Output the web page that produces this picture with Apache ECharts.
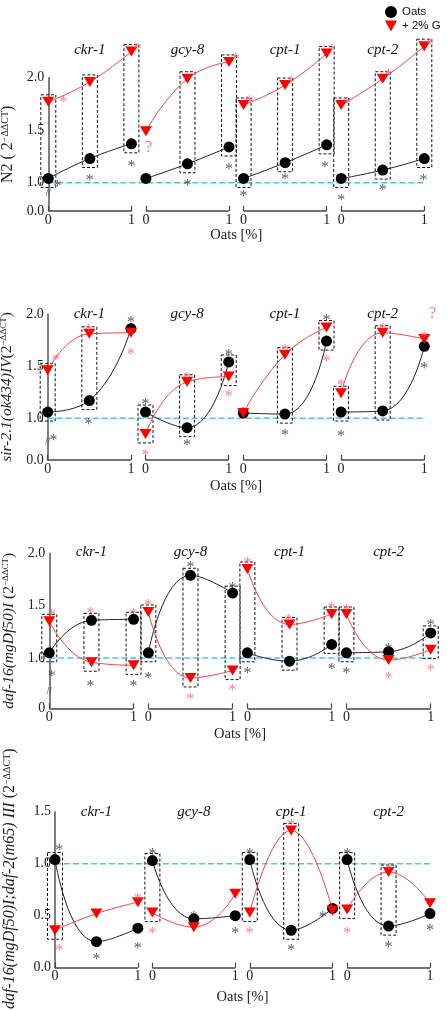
<!DOCTYPE html>
<html><head><meta charset="utf-8">
<script src="https://cdn.jsdelivr.net/npm/echarts@6/dist/echarts.min.js"></script>
<style>html,body{margin:0;padding:0;background:#fff}#c{width:447px;height:1010px}</style>
</head><body><div id="c"></div>
<script>
// ---------------- data ----------------
const GROUPS = ['ckr-1', 'gcy-8', 'cpt-1', 'cpt-2'];
const DOSES = [0, 0.5, 1];
const X_TICK_LABELS = ['0', '1'];
const REF_LEVEL = 1;

// Panel 1: N2
const OATS_N2 = [[1.04, 1.23, 1.37], [1.04, 1.18, 1.34], [1.04, 1.19, 1.36], [1.04, 1.12, 1.23]];
const G_N2    = [[1.77, 1.96, 2.25], [1.49, 1.99, 2.15], [1.74, 1.93, 2.23], [1.74, 1.99, 2.30]];
const BOX_N2  = [[0,0],[0,1],[0,2],[1,1],[1,2],[2,0],[2,1],[2,2],[3,0],[3,1],[3,2]];
const STARS_N2 = [[0,0.11,1.00,'b'],[0,0.18,1.80,'r'],[0,0.5,1.06,'b'],[0,1.0,1.19,'b'],[0,1.08,2.30,'r'],
  [1,0.5,1.01,'b'],[1,1.0,1.16,'b'],[1,1.08,2.21,'r'],
  [2,0,0.90,'b'],[2,0.07,1.81,'r'],[2,0.5,1.07,'b'],[2,0.57,1.99,'r'],[2,0.98,1.18,'b'],[2,1.06,2.29,'r'],
  [3,0,0.87,'b'],[3,0.07,1.79,'r'],[3,0.5,0.96,'b'],[3,0.57,2.06,'r'],[3,0.99,1.06,'b'],[3,1.07,2.35,'r']];
const Q_N2 = [[1, 0.03, 1.33]];

// Panel 2: sir-2.1(ok434)IV
const OATS_SIR = [[1.06, 1.17, 1.86], [1.06, 0.91, 1.54], [1.05, 1.04, 1.74], [1.06, 1.07, 1.69]];
const G_SIR    = [[1.46, 1.81, 1.82], [0.85, 1.35, 1.40], [1.05, 1.61, 1.87], [1.24, 1.82, 1.76]];
const BOX_SIR  = [[0,0],[0,1],[1,0],[1,1],[1,2],[2,1],[2,2],[3,0],[3,1]];
const STARS_SIR = [[0,0.1,1.59,'r'],[0,0.07,0.82,'b'],[0,0.49,1.88,'r'],[0,0.49,0.98,'b'],[0,1,1.95,'b'],[0,1,1.65,'r'],
  [1,0,1.17,'b'],[1,0,0.68,'r'],[1,0.5,1.42,'r'],[1,0.5,0.77,'b'],[1,1,1.64,'b'],[1,1,1.24,'r'],
  [2,0.5,1.69,'r'],[2,0.5,0.87,'b'],[2,1,1.97,'b'],[2,1,1.58,'r'],
  [3,0,1.35,'r'],[3,0,0.86,'b'],[3,0.5,1.89,'r'],[3,1,1.81,'r'],[3,1,1.51,'b']];
const Q_SIR = [[3, 1.1, 2.0]];

// Panel 3: daf-16(mgDf50)I
const OATS_DAF16 = [[1.05, 1.36, 1.37], [1.05, 1.79, 1.62], [1.05, 0.97, 1.13], [1.05, 1.06, 1.24]];
const G_DAF16    = [[1.35, 0.96, 0.93], [1.44, 0.81, 0.88], [1.85, 1.32, 1.42], [1.42, 0.98, 1.08]];
const BOX_DAF16  = [[0,0],[0,1],[0,2],[1,0],[1,1],[1,2],[2,0],[2,1],[2,2],[3,0],[3,2]];
const STARS_DAF16 = [[0,0.03,1.44,'r'],[0,0.03,0.86,'b'],[0,0.49,1.46,'r'],[0,0.49,0.76,'b'],[0,1,1.45,'r'],[0,1,0.76,'b'],
  [1,0,1.54,'r'],[1,0,0.84,'b'],[1,0.5,1.90,'b'],[1,0.5,0.64,'r'],[1,1,1.70,'b'],[1,1,0.73,'r'],
  [2,0,1.94,'r'],[2,0,0.89,'b'],[2,0.49,1.39,'r'],[2,1,1.51,'r'],[2,1,0.93,'b'],
  [3,0,1.49,'r'],[3,0,0.89,'b'],[3,0.5,1.12,'b'],[3,0.5,0.84,'r'],[3,1,1.35,'b'],[3,1,0.92,'r']];

// Panel 4: daf-16(mgDf50)I;daf-2(m65) III
const OATS_DAF2 = [[1.04, 0.25, 0.38], [1.03, 0.47, 0.50], [1.04, 0.36, 0.57], [1.04, 0.40, 0.52]];
const G_DAF2    = [[0.36, 0.52, 0.63], [0.53, 0.39, 0.71], [0.53, 1.32, 0.55], [0.56, 0.92, 0.62]];
const BOX_DAF2  = [[0,0],[1,0],[2,0],[2,1],[3,0],[3,1]];
const STARS_DAF2 = [[0,0.05,1.16,'b'],[0,0.05,0.20,'r'],[0,0.5,0.11,'b'],[0,1,0.69,'r'],[0,1,0.22,'b'],
  [1,0,1.12,'b'],[1,0,0.36,'r'],[1,0.5,0.52,'b'],[1,1,0.36,'b'],
  [2,0,1.12,'b'],[2,0,0.36,'r'],[2,0.5,1.40,'r'],[2,0.5,0.20,'b'],[2,0.88,0.52,'b'],
  [3,0,1.12,'b'],[3,0,0.36,'r'],[3,0.5,0.98,'r'],[3,0.5,0.23,'b'],[3,1,0.39,'b']];

// ---------------- layout / style ----------------
const SERIF = '"Liberation Serif", "Times New Roman", serif';
const S = 1.175;             // group spacing in x units
const XMAX = 3 * S + 1;
const TRI = 'path://M0,0L10,0L5,9Z';
const RED = '#ff0000', RED_LINE = '#ee4646', RED_STAR = '#f0607a', BLACK_STAR = '#333', CYAN = '#4cc4e4';
const CLEAR = 'rgba(0,0,0,0)';

const PANELS = [
  {oats: OATS_N2, g: G_N2, boxes: BOX_N2, stars: STARS_N2, q: Q_N2,
   name: '{n|N2 ( 2}{s|−ΔΔCT}{n|)}', nameSize: 16, namePad: 0,
   left: 48.3, top: 77.7, width: 376, height: 133.3, yMin: 0.73, yMax: 2.0, yTicks: [1, 1.5, 2], bottom: '0.0',
   brk: 0.90, titleY: 50, xNameGap: 15, yNameGap: 29, cyanEnd: 4.6},
  {oats: OATS_SIR, g: G_SIR, boxes: BOX_SIR, stars: STARS_SIR, q: Q_SIR,
   name: '{i|sir-2.1(ok434)IV}{n|(2}{s|−ΔΔCT}{n|)}', nameSize: 15.5, namePad: 0,
   left: 47.7, top: 314, width: 376.6, height: 146, yMin: 0.6, yMax: 2.0, yTicks: [1, 1.5, 2], bottom: '0.0',
   brk: 0.78, titleY: 314, xNameGap: 19, yNameGap: 30, cyanEnd: 4.65},
  {oats: OATS_DAF16, g: G_DAF16, boxes: BOX_DAF16, stars: STARS_DAF16, q: [],
   name: '{i|daf-16(mgDf50)I}{n| (2}{s|−ΔΔCT}{n|)}', nameSize: 15.5, namePad: 0,
   left: 49.3, top: 553.3, width: 381.4, height: 155, yMin: 0.52, yMax: 2.0, yTicks: [1, 1.5, 2], bottom: '0',
   brk: 0.68, titleY: 551.7, xNameGap: 18, yNameGap: 31.5, cyanEnd: 4.71},
  {oats: OATS_DAF2, g: G_DAF2, boxes: BOX_DAF2, stars: STARS_DAF2, q: [],
   name: '{i|daf-16(mgDf50)I;daf-2(m65) III}{n| (2}{s|−ΔΔCT}{n|)}', nameSize: 16, namePad: 22,
   left: 55, top: 811.7, width: 375, height: 156, yMin: 0, yMax: 1.5, yTicks: [0.5, 1, 1.5], bottom: '0.0',
   brk: null, titleY: 811.7, xNameGap: 22, yNameGap: 37, cyanEnd: 4.72}
];

function richFor(size) {
  return {
    n: {fontFamily: SERIF, fontSize: size, color: '#222'},
    i: {fontFamily: SERIF, fontSize: size, fontStyle: 'italic', color: '#222'},
    s: {fontFamily: SERIF, fontSize: Math.round(size * 0.6), color: '#222', verticalAlign: 'top'}
  };
}

const grid = [], xAxis = [], yAxis = [], series = [], graphic = [];
const xTicks = [];
GROUPS.forEach((_, g) => { xTicks.push(g * S, g * S + 1); });

PANELS.forEach((p, pi) => {
  grid.push({left: p.left, top: p.top, width: p.width, height: p.height, containLabel: false, outerBoundsMode: 'none'});
  xAxis.push({
    type: 'value', gridIndex: pi, min: 0, max: XMAX,
    axisLine: {show: false}, splitLine: {show: false},
    axisTick: {show: true, inside: true, length: 5, customValues: xTicks, lineStyle: {color: '#444', width: 1.2}},
    axisLabel: {customValues: xTicks, margin: 2, fontFamily: SERIF, fontSize: 14, color: '#222',
      formatter: v => { const j = xTicks.findIndex(t => Math.abs(t - v) < 1e-6); return j < 0 ? '' : X_TICK_LABELS[j % 2]; }},
    name: 'Oats [%]', nameLocation: 'middle', nameGap: p.xNameGap,
    nameTextStyle: {fontFamily: SERIF, fontSize: 14.5, color: '#222'}
  });
  yAxis.push({
    type: 'value', gridIndex: pi, min: p.yMin, max: p.yMax,
    axisLine: {show: true, onZero: false, lineStyle: {color: '#555', width: 1.5}},
    axisTick: {show: false}, splitLine: {show: false},
    axisLabel: {customValues: [p.yMin].concat(p.yTicks), margin: 4, fontFamily: SERIF, fontSize: 14, color: '#222',
      formatter: v => Math.abs(v - p.yMin) < 1e-6 ? p.bottom : v.toFixed(1)},
    name: p.name, nameLocation: 'middle', nameRotate: 90, nameGap: p.yNameGap,
    nameTextStyle: {rich: richFor(p.nameSize), padding: [0, 0, 0, p.namePad]}
  });

  // reference line
  series.push({type: 'line', xAxisIndex: pi, yAxisIndex: pi, data: [[0, REF_LEVEL], [p.cyanEnd, REF_LEVEL]],
    symbol: 'none', clip: false, silent: true, z: 1,
    lineStyle: {color: CYAN, width: 1.5, type: [6, 3]}});

  // dashed boxes around paired points
  const boxData = p.boxes.map(([g, i]) => {
    const a = p.oats[g][i], b = p.g[g][i];
    return [g * S + DOSES[i], Math.min(a, b), Math.max(a, b)];
  });
  series.push({type: 'custom', xAxisIndex: pi, yAxisIndex: pi, data: boxData, clip: false, silent: true, z: 2,
    encode: {x: 0, y: [1, 2]},
    renderItem: (params, api) => {
      const x = api.value(0);
      const lo = api.coord([x, api.value(1)]);
      const hi = api.coord([x, api.value(2)]);
      return {type: 'rect', shape: {x: lo[0] - 7.5, y: hi[1] - 7, width: 15, height: lo[1] - hi[1] + 16},
        style: {fill: 'none', stroke: '#111', lineWidth: 1, lineDash: [3, 2]}};
    }});

  // lines + markers
  GROUPS.forEach((_, g) => {
    series.push({type: 'line', name: 'Oats', xAxisIndex: pi, yAxisIndex: pi, clip: false, z: 3,
      data: DOSES.map((d, i) => [g * S + d, p.oats[g][i]]),
      smooth: 0.5, symbol: 'circle', symbolSize: 11,
      itemStyle: {color: '#000'}, lineStyle: {color: '#222', width: 1}});
    series.push({type: 'line', name: '+ 2% G', xAxisIndex: pi, yAxisIndex: pi, clip: false, z: 4,
      data: DOSES.map((d, i) => [g * S + d, p.g[g][i]]),
      smooth: 0.5, symbol: TRI, symbolSize: [12, 10],
      itemStyle: {color: RED}, lineStyle: {color: RED_LINE, width: 1}});
  });

  // asterisks + x axis segments
  const segs = GROUPS.map((_, g) => [{coord: [g * S, p.yMin]}, {coord: [g * S + 1, p.yMin]}]);
  series.push({type: 'scatter', xAxisIndex: pi, yAxisIndex: pi, clip: false, silent: true, z: 5,
    symbolSize: 1, itemStyle: {color: CLEAR},
    data: p.stars.map(([g, d, v, c]) => ({value: [g * S + d, v],
      label: {color: c === 'r' ? RED_STAR : BLACK_STAR}})),
    label: {show: true, position: 'inside', formatter: '*', fontFamily: SERIF, fontSize: 16, offset: [0, 4]},
    markLine: {silent: true, symbol: 'none', label: {show: false},
      lineStyle: {color: '#444', width: 1.5, type: 'solid'}, data: segs}});

  if (p.q.length) {
    series.push({type: 'scatter', xAxisIndex: pi, yAxisIndex: pi, clip: false, silent: true, z: 5,
      symbolSize: 1, itemStyle: {color: CLEAR},
      data: p.q.map(([g, d, v]) => [g * S + d, v]),
      label: {show: true, position: 'inside', formatter: '?', fontFamily: SERIF, fontSize: 17, color: RED_STAR}});
  }
  if (p.brk !== null) {
    series.push({type: 'scatter', xAxisIndex: pi, yAxisIndex: pi, clip: false, silent: true, z: 6,
      symbolSize: 1, itemStyle: {color: CLEAR}, data: [[0, p.brk]],
      label: {show: true, position: 'inside', formatter: '//', fontFamily: 'Liberation Sans', fontSize: 9, color: '#555'}});
  }

  // group titles
  const pxPerUnit = p.width / XMAX;
  GROUPS.forEach((name, g) => {
    graphic.push({type: 'text', x: p.left + (g * S + 0.5) * pxPerUnit, y: p.titleY, silent: true,
      style: {text: name, font: 'italic 15px "Liberation Serif"', fontFamily: SERIF, fontSize: 15, fontStyle: 'italic',
        fill: '#111', textAlign: 'center', textVerticalAlign: 'middle', align: 'center', verticalAlign: 'middle'}});
  });
});

const chart = echarts.init(document.getElementById('c'), null, {renderer: 'canvas'});
chart.setOption({
  animation: false,
  backgroundColor: '#fff',
  legend: {orient: 'vertical', left: 380, top: 1, itemWidth: 12, itemHeight: 12, itemGap: 2, selectedMode: false,
    textStyle: {fontFamily: 'Liberation Sans', fontSize: 11.5, color: '#111'},
    data: [{name: 'Oats', icon: 'circle'}, {name: '+ 2% G', icon: TRI}]},
  grid, xAxis, yAxis, series, graphic
});
</script></body></html>
